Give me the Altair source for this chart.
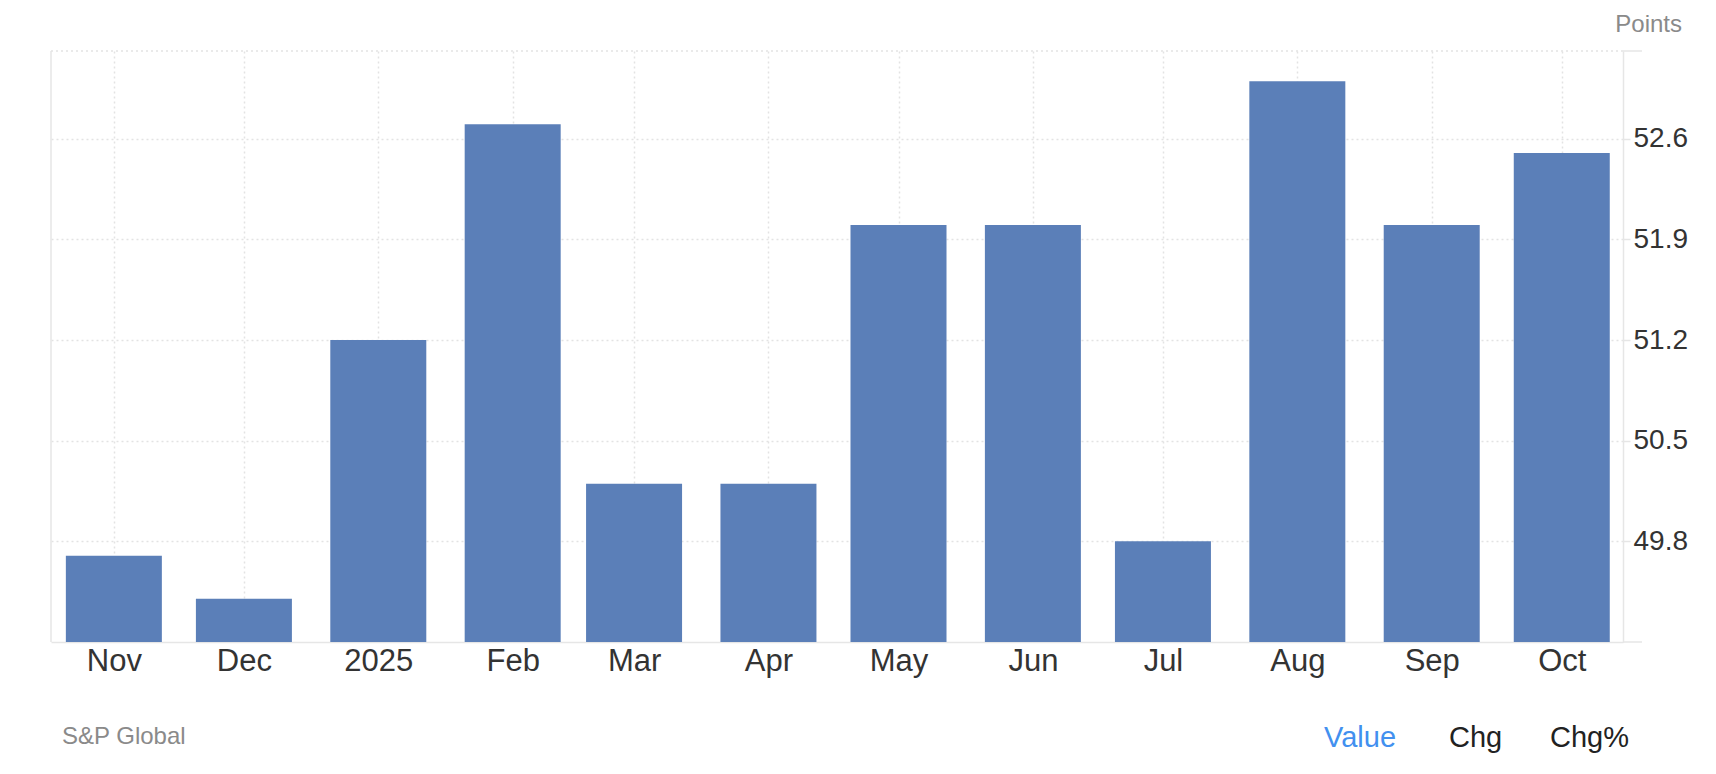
import json
import altair as alt
import pandas as pd

# ---- data ----
months = ["2024-11-01", "2024-12-01", "2025-01-01", "2025-02-01", "2025-03-01", "2025-04-01",
          "2025-05-01", "2025-06-01", "2025-07-01", "2025-08-01", "2025-09-01", "2025-10-01"]
tick_labels = ["Nov", "Dec", "2025", "Feb", "Mar", "Apr", "May", "Jun", "Jul", "Aug", "Sep", "Oct"]
values = [49.7, 49.4, 51.2, 52.7, 50.2, 50.2, 52.0, 52.0, 49.8, 53.0, 52.0, 52.5]
y_ticks = [49.8, 50.5, 51.2, 51.9, 52.6]
y_domain = [49.1, 53.21]
x_domain = ["2024-10-17T12:00:00", "2025-10-15T03:00:00"]
unit_label = "Points"
source_label = "S&P Global"
footer_labels = ["Value", "Chg", "Chg%"]

df = pd.DataFrame({"date": months, "value": values, "label": tick_labels})

def to_ms(s):
    return int(pd.Timestamp(s, tz="UTC").value // 10**6)

tick_ms = [to_ms(m) for m in months]
dom_ms = [to_ms(d) for d in x_domain]
label_expr = f"{json.dumps(tick_labels)}[indexof({json.dumps(tick_ms)}, time(datum.value))]"

W, H = 1572, 591
FONT = "Liberation Sans"
GRID = "#e3e3e3"
LINE = "#e6e6e6"
TEXT = "#333333"

x_enc = alt.X(
    "date:T",
    scale=alt.Scale(type="utc", domain=dom_ms, nice=False, padding=0),
    axis=alt.Axis(
        values=tick_ms, labelExpr=label_expr, title=None, ticks=False,
        domainColor=LINE, domainWidth=1.5, labelFontSize=31, labelColor=TEXT,
        labelFont=FONT, labelPadding=4, labelBaseline="top",
        grid=True, gridColor=GRID, gridDash=[2, 3], gridWidth=1.5,
    ),
)
y_enc = alt.Y(
    "value:Q",
    scale=alt.Scale(domain=y_domain, zero=False, nice=False, padding=0),
    axis=alt.Axis(
        orient="right", values=y_ticks, title=None, format=".1f",
        domainColor=LINE, domainWidth=1.5, tickColor=LINE, tickSize=7, tickWidth=1.5,
        labelFontSize=28, labelColor=TEXT, labelFont=FONT, labelPadding=3,
        grid=True, gridColor=GRID, gridDash=[2, 3], gridWidth=1.5,
    ),
)

bars = alt.Chart(df).mark_bar(size=96, color="#5b7fb8").encode(
    x=x_enc, y=y_enc, y2=alt.datum(y_domain[0])
)

one = pd.DataFrame({"k": [0]})
frame_left = alt.Chart(one).mark_rule(color=LINE, strokeWidth=1.5).encode(
    x=alt.value(0), y=alt.value(0), y2=alt.value(H))
frame_top = alt.Chart(one).mark_rule(color=GRID, strokeWidth=1.5, strokeDash=[2, 3]).encode(
    x=alt.value(0), x2=alt.value(W), y=alt.value(0))
ext_top = alt.Chart(one).mark_rule(color=LINE, strokeWidth=1.5).encode(
    x=alt.value(W), x2=alt.value(W + 19), y=alt.value(0))
ext_bot = alt.Chart(one).mark_rule(color=LINE, strokeWidth=1.5).encode(
    x=alt.value(W), x2=alt.value(W + 19), y=alt.value(H))

def txt(s, x, y, color, size, align="left"):
    return alt.Chart(pd.DataFrame({"t": [s]})).mark_text(
        align=align, baseline="alphabetic", font=FONT, fontSize=size, color=color
    ).encode(text="t:N", x=alt.value(x), y=alt.value(y))

t_unit = txt(unit_label, 1631, -19, "#8a8a8a", 24, align="right")
t_src = txt(source_label, 11, 693, "#8a8a8a", 24)
t_val = txt(footer_labels[0], 1273, 696, "#4290ef", 29)
t_chg = txt(footer_labels[1], 1398, 696, "#222222", 29)
t_chgp = txt(footer_labels[2], 1499, 696, "#222222", 29)

chart = alt.layer(
    bars, frame_left, frame_top, ext_top, ext_bot, t_unit, t_src, t_val, t_chg, t_chgp
).properties(
    width=W, height=H,
    autosize=alt.AutoSizeParams(type="none"),
    padding={"left": 43, "top": 43, "right": 85, "bottom": 112},
    background="white",
).configure_view(stroke=None)

chart.save("out.html", embed_options={"renderer": "svg", "actions": False})
